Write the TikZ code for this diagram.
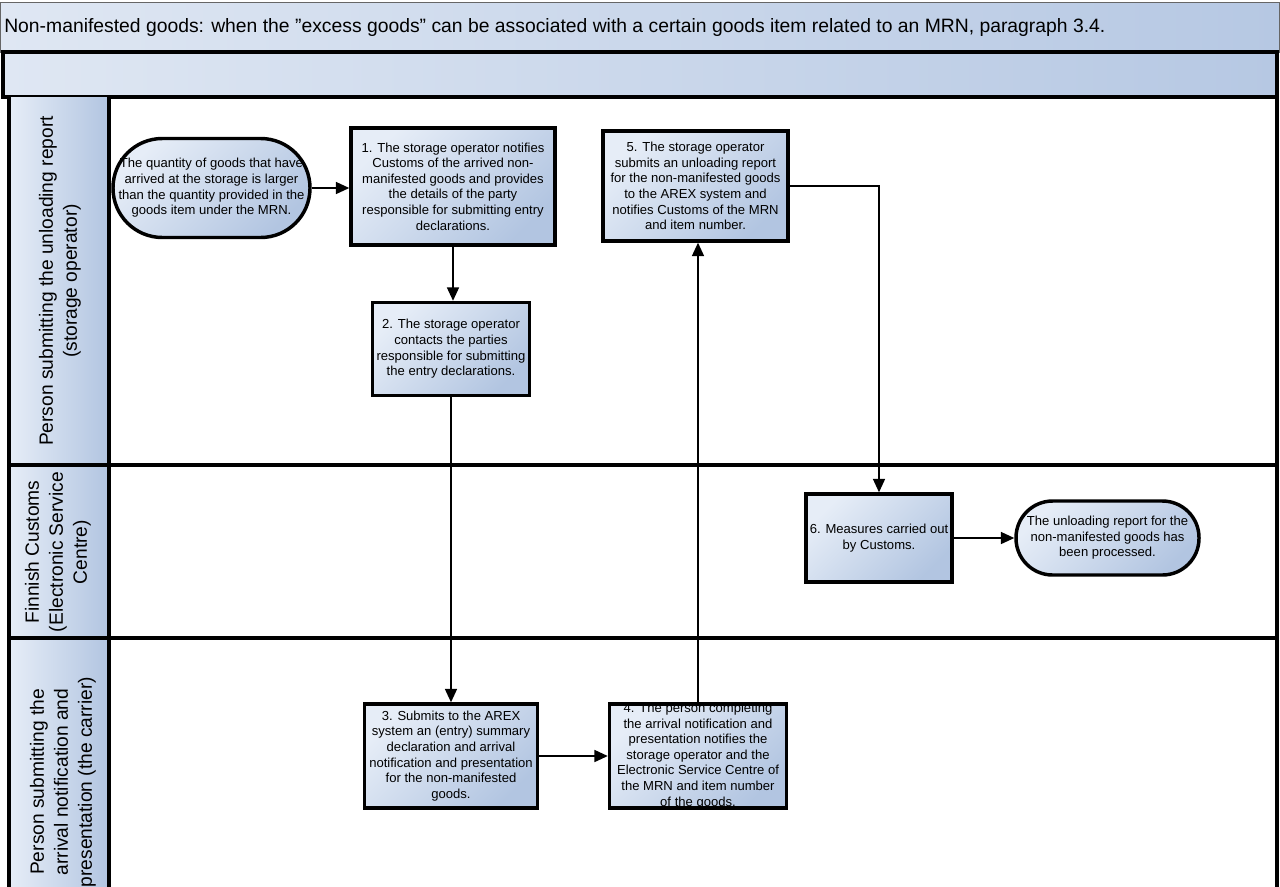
\documentclass[tikz,border=0pt]{standalone}
\usepackage{fontspec}
\setmainfont{Liberation Sans}
\usetikzlibrary{arrows.meta,calc}
\definecolor{flight}{HTML}{E6EDF7}
\definecolor{fdark}{HTML}{B2C5E1}
\definecolor{tlight}{HTML}{DFE7F3}
\definecolor{tdark}{HTML}{B6C8E3}
\newcommand{\boxfont}{\fontsize{9.8}{11.7}\selectfont}
\newcommand{\lanefont}{\fontsize{14.4}{18}\selectfont}
\begin{document}
\begin{tikzpicture}[x=0.75pt,y=-0.75pt,
  gradfill/.style={top color=flight, bottom color=fdark, shading angle=45},
  procbox/.style={draw=black, line width=2.6pt, gradfill, align=center, font=\boxfont, inner sep=0pt},
  termbox/.style={procbox},
  plain/.style={align=center, font=\boxfont, inner sep=0pt},
  lanetxt/.style={rotate=90, align=center, font=\lanefont, inner sep=0pt},
  conn/.style={line width=1.1pt, -{Triangle[length=10pt,width=9pt]}},
  poolline/.style={line width=2.3pt, black}
]
\useasboundingbox (0,0) rectangle (1280,886);
\clip (0,0) rectangle (1280,886);
\fill[white] (0,0) rectangle (1280,886);

% title bar
\shade[left color=tlight, right color=tdark] (0,2) rectangle (1279,52);
\draw[gray!80!black, line width=0.6pt] (0,2) rectangle (1279,52);
\node[anchor=west, font=\fontsize{14.5}{16}\selectfont, inner sep=0pt] (title) at (4,27)
  {Non-manifested goods: when the ”excess goods” can be associated with a certain goods item related to an MRN, paragraph 3.4.};

% second bar
\shade[left color=tlight, right color=tdark] (3,52) rectangle (1277,97);
\draw[poolline] (3,52) rectangle (1277,97);

% lane label columns
\shade[left color=flight, right color=fdark] (9,97) rectangle (109,465);
\shade[left color=flight, right color=fdark] (9,465) rectangle (109,638);
\shade[left color=flight, right color=fdark] (9,638) rectangle (109,900);

% pool lines
\draw[poolline] (9,97) -- (9,900);
\draw[poolline] (109,97) -- (109,900);
\draw[poolline] (1277,97) -- (1277,900);
\draw[poolline] (9,465) -- (1277,465);
\draw[poolline] (9,638) -- (1277,638);

% lane labels
\node[lanetxt] (lane1) at (60,281) {Person submitting the unloading report\\(storage operator)};
\node[lanetxt] (lane2) at (58,552) {Finnish Customs\\(Electronic Service\\Centre)};
\node[lanetxt] (lane3) at (63,782) {Person submitting the\\arrival notification and\\presentation (the carrier)};

% nodes
\node[termbox, minimum width=147.75pt, minimum height=74.25pt, rounded corners=37pt] (start) at (211.5,188)
  {The quantity of goods that have\\arrived at the storage is larger\\than the quantity provided in the\\goods item under the MRN.};
\node[procbox, minimum width=153pt, minimum height=87.75pt] (b1) at (453,186.5)
  {1. The storage operator notifies\\Customs of the arrived non-\\manifested goods and provides\\the details of the party\\responsible for submitting entry\\declarations.};
\node[procbox, minimum width=117.75pt, minimum height=69.75pt] (b2) at (451,349)
  {2. The storage operator\\contacts the parties\\responsible for submitting\\the entry declarations.};
\node[procbox, minimum width=129.75pt, minimum height=78pt] (b3) at (451,756)
  {3. Submits to the AREX\\system an (entry) summary\\declaration and arrival\\notification and presentation\\for the non-manifested\\goods.};
\node[procbox, minimum width=132.75pt, minimum height=78pt] (b4) at (698,756) {};
\node[plain] (b4t) at (b4.center)
  {4. The person completing\\the arrival notification and\\presentation notifies the\\storage operator and the\\Electronic Service Centre of\\the MRN and item number\\of the goods.};
\node[procbox, minimum width=138.75pt, minimum height=82.5pt] (b5) at (695.5,186)
  {5. The storage operator\\submits an unloading report\\for the non-manifested goods\\to the AREX system and\\notifies Customs of the MRN\\and item number.};
\node[procbox, minimum width=109.5pt, minimum height=66pt] (b6) at (879,538)
  {6. Measures carried out\\by Customs.};
\node[termbox, minimum width=137.25pt, minimum height=55.5pt, rounded corners=27.5pt] (end) at (1107.5,538)
  {The unloading report for the\\non-manifested goods has\\been processed.};

% connectors
\draw[conn] (start.east) -- (start.east -| b1.west);
\draw[conn] (b1.south) -- (b1.south |- b2.north);
\draw[conn] (b2.south) -- (b3.north);
\draw[conn] (b3.east) -- (b4.west);
\draw[conn] (b4.north) -- (b4.north |- b5.south);
\draw[conn] (b5.east) -| (b6.north);
\draw[conn] (b6.east) -- (end.west);
\end{tikzpicture}
\end{document}
